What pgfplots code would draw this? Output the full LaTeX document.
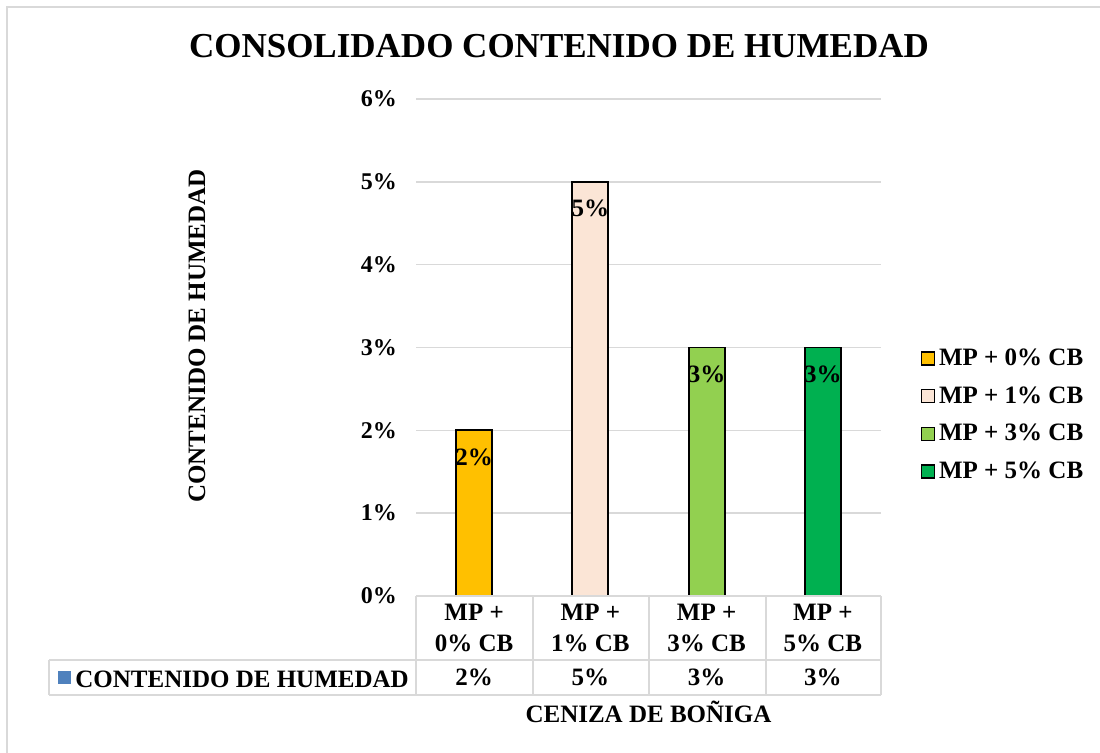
\documentclass[border=0pt]{standalone}
\usepackage{pgfplots}
\pgfplotsset{compat=1.18}
\usepackage{fontspec}
\setmainfont{Liberation Serif}

\definecolor{cOro}{HTML}{FFC000}
\definecolor{cRosa}{HTML}{FBE5D6}
\definecolor{cVerdeC}{HTML}{92D050}
\definecolor{cVerde}{HTML}{00B050}
\definecolor{cGris}{HTML}{D9D9D9}
\definecolor{cAzul}{HTML}{4F81BD}

\begin{document}
\begin{tikzpicture}
% page = 1100x753 px, 1 px = 0.5pt
\useasboundingbox (0,0) rectangle (550pt,376.5pt);
\draw[cGris, line width=0.75pt] (3.5pt,0) -- (3.5pt,373pt) -- (550pt,373pt);

\begin{axis}[
    at={(208pt,78.5pt)}, anchor=south west,
    scale only axis,
    width=232.5pt, height=248.5pt,
    xmin=-0.5, xmax=3.5,
    ymin=0, ymax=6,
    ytick={0,1,2,3,4,5,6},
    yticklabel={\pgfmathprintnumber{\tick}\%},
    yticklabel style={font=\bfseries\fontsize{12}{14}\selectfont, xshift=-6pt},
    /pgf/number format/assume math mode=true,
    xtick={0,1,2,3},
    xticklabels={{MP +\\0\% CB},{MP +\\1\% CB},{MP +\\3\% CB},{MP +\\5\% CB}},
    xticklabel style={font=\bfseries\fontsize{12.5}{15.5}\selectfont, align=center, anchor=center, yshift=-16pt},
    major tick length=0pt,
    axis line style={draw=none},
    ymajorgrids=true,
    grid style={cGris, line width=0.75pt},
    ybar, bar width=18pt, bar shift=0pt,
    clip=false,
    legend style={draw=none, at={(1.085,0.364)}, anchor=west,
        font=\bfseries\fontsize{12.5}{15}\selectfont,
        row sep=5pt, inner sep=0pt},
    legend cell align=left,
    legend image code/.code={\draw[#1, line width=0.6pt] (0pt,-3.2pt) rectangle (6.5pt,3.3pt);},
    nodes near coords={\pgfmathprintnumber{\pgfplotspointmeta}\%},
    every node near coord/.append style={font=\bfseries\fontsize{12.5}{15}\selectfont, anchor=center, yshift=-13.5pt},
]
\addplot[fill=cOro, draw=black, line width=0.9pt] coordinates {(0,2)};
\addplot[fill=cRosa, draw=black, line width=0.9pt] coordinates {(1,5)};
\addplot[fill=cVerdeC, draw=black, line width=0.9pt] coordinates {(2,3)};
\addplot[fill=cVerde, draw=black, line width=0.9pt] coordinates {(3,3)};
\legend{MP + 0\% CB, MP + 1\% CB, MP + 3\% CB, MP + 5\% CB}

% fila de la tabla de datos
\addplot[only marks, mark=none, forget plot, point meta=explicit,
    nodes near coords={\pgfmathprintnumber{\pgfplotspointmeta}\%},
    every node near coord/.style={font=\bfseries\fontsize{12.5}{15}\selectfont, anchor=center, yshift=0pt}]
    coordinates {(0,-0.984)[2] (1,-0.984)[5] (2,-0.984)[3] (3,-0.984)[3]};
\end{axis}

% tabla de datos
\begin{scope}[cGris, line width=0.75pt]
\draw (208pt,78.5pt) -- (440.5pt,78.5pt);
\draw (24.5pt,46.5pt) -- (440.5pt,46.5pt);
\draw (24.5pt,29pt) -- (440.5pt,29pt);
\draw (24.5pt,29pt) -- (24.5pt,46.5pt);
\foreach \x in {208,266.5,324.5,383,440.5}
  \draw (\x pt,29pt) -- (\x pt,78.5pt);
\end{scope}
\fill[cAzul] (29pt,34.5pt) rectangle (35.5pt,41pt);
\node[anchor=base west, inner sep=0pt, font=\bfseries\fontsize{12.5}{15}\selectfont] at (37.5pt,32.8pt) {CONTENIDO DE HUMEDAD};

% titulos
\node[anchor=base, inner sep=0pt, font=\bfseries\fontsize{17.5}{20}\selectfont] at (279.5pt,347.5pt) {CONSOLIDADO CONTENIDO DE HUMEDAD};
\node[anchor=base, inner sep=0pt, rotate=90, font=\bfseries\fontsize{12.5}{15}\selectfont] at (102.5pt,208.5pt) {CONTENIDO DE HUMEDAD};
\node[anchor=base, inner sep=0pt, font=\bfseries\fontsize{12.5}{15}\selectfont] at (324.25pt,15pt) {CENIZA DE BOÑIGA};
\end{tikzpicture}
\end{document}
